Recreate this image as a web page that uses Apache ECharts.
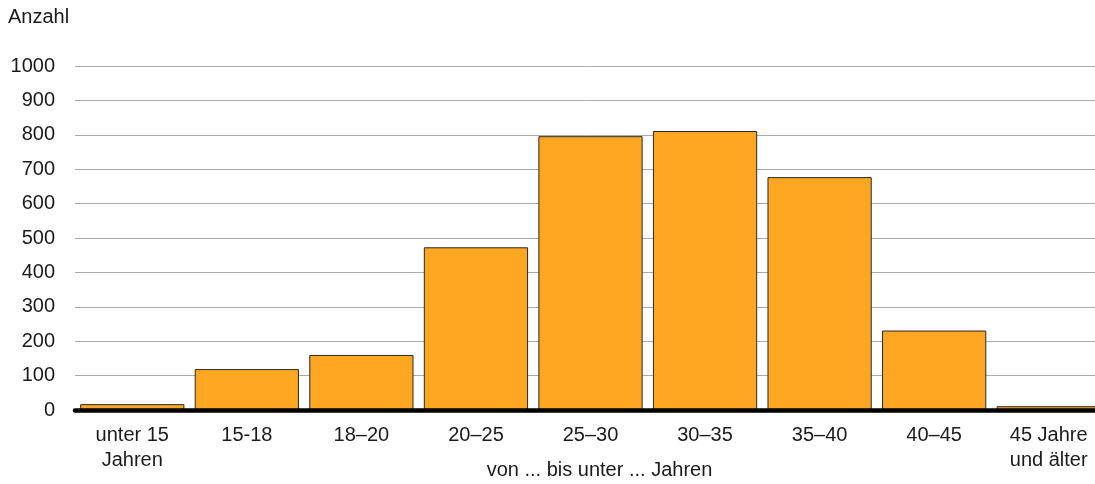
<!DOCTYPE html>
<html>
<head>
<meta charset="utf-8">
<script src="https://cdn.jsdelivr.net/npm/echarts@6/dist/echarts.min.js"></script>
<style>html,body{margin:0;padding:0;background:#fff}#c{width:1095px;height:484px}</style>
</head>
<body>
<div id="c"></div>
<script>
const categories = ['unter 15\nJahren', '15-18', '18–20', '20–25', '25–30', '30–35', '35–40', '40–45', '45 Jahre\nund älter'];
const values = [17, 119, 160, 473, 796, 811, 677, 231, 11];
const yTicks = [0, 100, 200, 300, 400, 500, 600, 700, 800, 900, 1000];

const FONT = 'Liberation Sans, Arial, sans-serif';
const chart = echarts.init(document.getElementById('c'));
chart.setOption({
  animation: false,
  textStyle: { fontFamily: FONT },
  graphic: [{
    type: 'text', left: 8, top: 7,
    style: { text: 'Anzahl', fontSize: 20, fill: '#1a1a1a', fontFamily: FONT }
  }],
  grid: { left: 75, top: 66, width: 1031, height: 344, outerBoundsMode: 'none', containLabel: false },
  xAxis: {
    type: 'category',
    data: categories,
    name: 'von ... bis unter ... Jahren',
    nameLocation: 'middle',
    nameGap: 50,
    nameMoveOverlap: false,
    nameTextStyle: { fontSize: 20, color: '#1a1a1a', padding: [0, 0, 0, 18] },
    axisLine: { show: true, lineStyle: { color: '#000', width: 4.5 } },
    axisTick: { show: false },
    axisLabel: { fontSize: 20, color: '#1a1a1a', margin: 13, lineHeight: 25, interval: 0 },
    z: 10
  },
  yAxis: {
    type: 'value',
    min: yTicks[0],
    max: yTicks[yTicks.length - 1],
    interval: 100,
    axisLine: { show: false },
    axisTick: { show: false },
    axisLabel: { fontSize: 20, color: '#1a1a1a', margin: 20, formatter: v => String(v) },
    splitLine: { lineStyle: { color: '#aaaaaa', width: 1 } }
  },
  series: [{
    type: 'bar',
    data: values,
    barCategoryGap: '9%',
    itemStyle: { color: '#FFA623', borderColor: '#2a2a2a', borderWidth: 1 }
  }]
});
</script>
</body>
</html>
